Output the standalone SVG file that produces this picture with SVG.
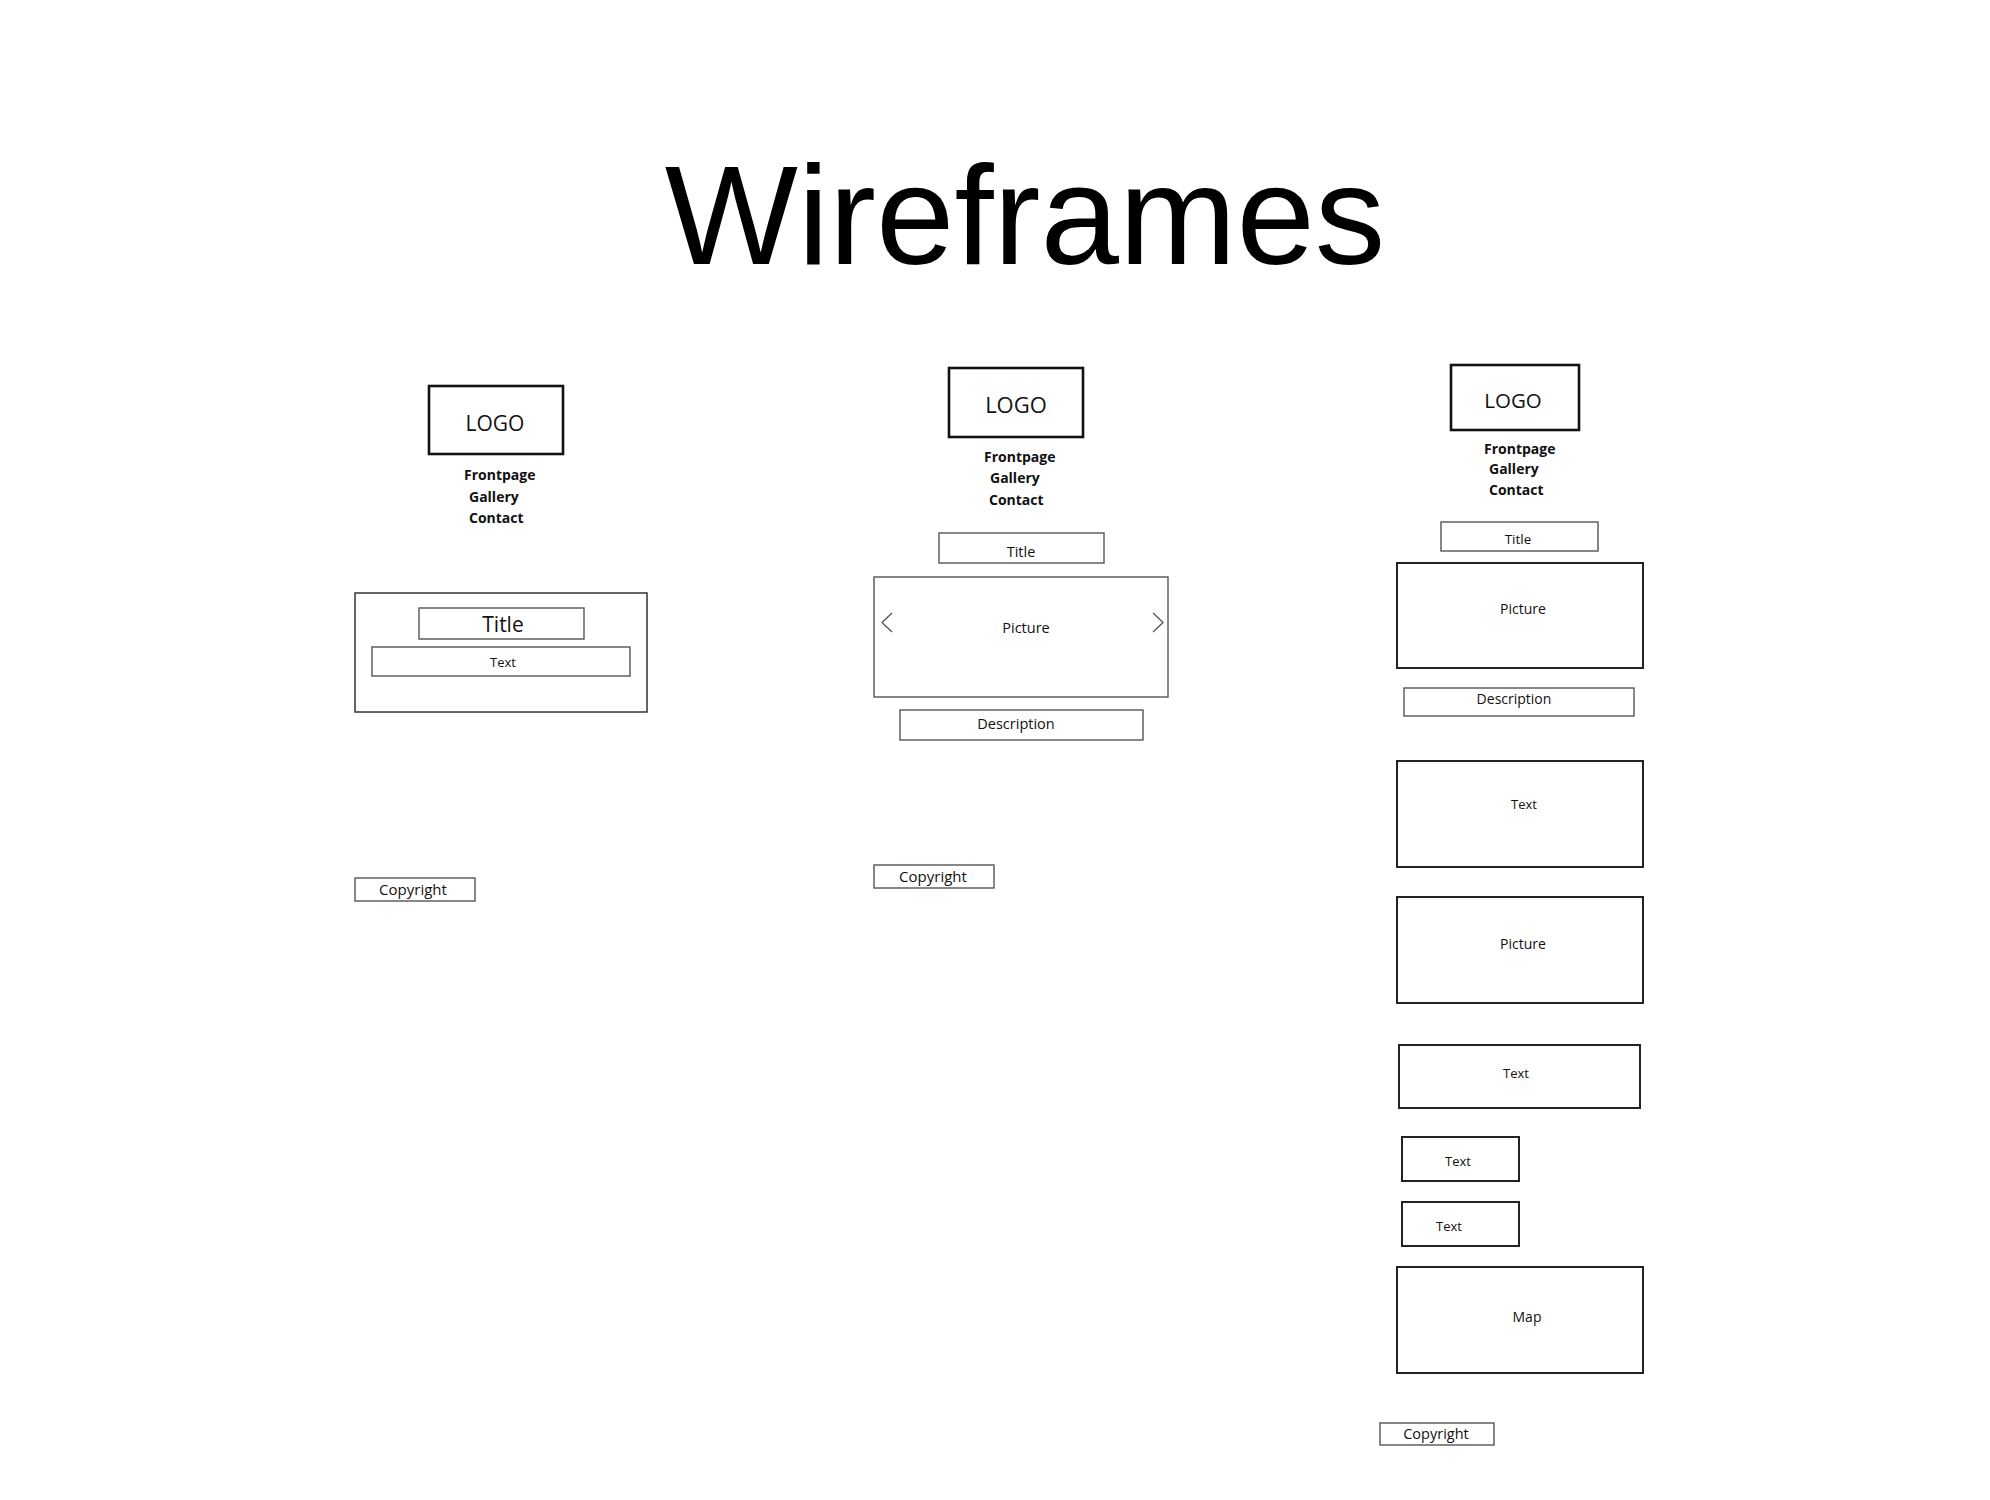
<svg xmlns="http://www.w3.org/2000/svg" width="1990" height="1500" viewBox="0 0 1990 1500">
<style>
  .bg { fill: #ffffff; }
  .logo { fill: #ffffff; stroke: #111111; stroke-width: 2.6; }
  .thick { fill: #ffffff; stroke: #222222; stroke-width: 2; }
  .thin { fill: #ffffff; stroke: #555555; stroke-width: 1.4; }
  .frame { fill: #ffffff; stroke: #333333; stroke-width: 1.5; }
  .chev { fill: none; stroke: #555555; stroke-width: 1.3; }
  text { font-family: "Open Sans", "Noto Sans", "DejaVu Sans", sans-serif; fill: #111111; }
  .title { font-family: "Liberation Sans", Arial, sans-serif; font-size: 141px; fill: #000000; }
  .nav { font-weight: bold; font-size: 14px; }
  .lbl { font-size: 14px; text-anchor: middle; }
  .lg { font-size: 21px; text-anchor: middle; }
</style>
<rect class="bg" x="0" y="0" width="1990" height="1500"/>
<text class="title" x="1025" y="264" text-anchor="middle">Wireframes</text>

<g id="col1">
  <g id="c1-logo"><rect class="logo" x="429" y="386" width="134" height="68"/><text class="lg" x="495" y="431">LOGO</text></g>
  <g id="c1-nav">
    <text class="nav" x="464" y="480">Frontpage</text>
    <text class="nav" x="469" y="502">Gallery</text>
    <text class="nav" x="469" y="523">Contact</text>
  </g>
  <g id="c1-frame"><rect class="frame" x="355" y="593" width="292" height="119"/></g>
  <g id="c1-title"><rect class="thin" x="419" y="608" width="165" height="31"/><text class="lbl" x="503" y="632" style="font-size:21px">Title</text></g>
  <g id="c1-text"><rect class="thin" x="372" y="647" width="258" height="29"/><text class="lbl" x="503" y="667" style="font-size:13px">Text</text></g>
  <g id="c1-copy"><rect class="thin" x="355" y="878" width="120" height="23"/><text class="lbl" x="413" y="895" style="font-size:15px">Copyright</text></g>
</g>

<g id="col2">
  <g id="c2-logo"><rect class="logo" x="949" y="368" width="134" height="69"/><text class="lg" x="1016" y="413" style="font-size:22px">LOGO</text></g>
  <g id="c2-nav">
    <text class="nav" x="984" y="462">Frontpage</text>
    <text class="nav" x="990" y="483">Gallery</text>
    <text class="nav" x="989" y="505">Contact</text>
  </g>
  <g id="c2-title"><rect class="thin" x="939" y="533" width="165" height="30"/><text class="lbl" x="1021" y="557" style="font-size:14.5px">Title</text></g>
  <g id="c2-picture">
    <rect class="thin" x="874" y="577" width="294" height="120"/>
    <text class="lbl" x="1026" y="633" style="font-size:14.5px">Picture</text>
    <polyline class="chev" points="892,613 882,622.5 892,632"/>
    <polyline class="chev" points="1153,613 1163,622.5 1153,632"/>
  </g>
  <g id="c2-desc"><rect class="thin" x="900" y="710" width="243" height="30"/><text class="lbl" x="1016" y="729" style="font-size:14.5px">Description</text></g>
  <g id="c2-copy"><rect class="thin" x="874" y="865" width="120" height="23"/><text class="lbl" x="933" y="882" style="font-size:15px">Copyright</text></g>
</g>

<g id="col3">
  <g id="c3-logo"><rect class="logo" x="1451" y="365" width="128" height="65"/><text class="lg" x="1513" y="408" style="font-size:20.5px">LOGO</text></g>
  <g id="c3-nav">
    <text class="nav" x="1484" y="454">Frontpage</text>
    <text class="nav" x="1489" y="474">Gallery</text>
    <text class="nav" x="1489" y="495">Contact</text>
  </g>
  <g id="c3-title"><rect class="thin" x="1441" y="522" width="157" height="29"/><text class="lbl" x="1518" y="544" style="font-size:13.5px">Title</text></g>
  <g id="c3-picture1"><rect class="thick" x="1397" y="563" width="246" height="105"/><text class="lbl" x="1523" y="614">Picture</text></g>
  <g id="c3-desc"><rect class="thin" x="1404" y="688" width="230" height="28"/><text class="lbl" x="1514" y="704">Description</text></g>
  <g id="c3-text1"><rect class="thick" x="1397" y="761" width="246" height="106"/><text class="lbl" x="1524" y="809" style="font-size:13px">Text</text></g>
  <g id="c3-picture2"><rect class="thick" x="1397" y="897" width="246" height="106"/><text class="lbl" x="1523" y="949">Picture</text></g>
  <g id="c3-text2"><rect class="thick" x="1399" y="1045" width="241" height="63"/><text class="lbl" x="1516" y="1078" style="font-size:13px">Text</text></g>
  <g id="c3-text3"><rect class="thick" x="1402" y="1137" width="117" height="44"/><text class="lbl" x="1458" y="1166" style="font-size:13px">Text</text></g>
  <g id="c3-text4"><rect class="thick" x="1402" y="1202" width="117" height="44"/><text class="lbl" x="1449" y="1231" style="font-size:13px">Text</text></g>
  <g id="c3-map"><rect class="thick" x="1397" y="1267" width="246" height="106"/><text class="lbl" x="1527" y="1322">Map</text></g>
  <g id="c3-copy"><rect class="thin" x="1380" y="1423" width="114" height="22"/><text class="lbl" x="1436" y="1439" style="font-size:14.5px">Copyright</text></g>
</g>
<g id="connectors"></g>
</svg>
